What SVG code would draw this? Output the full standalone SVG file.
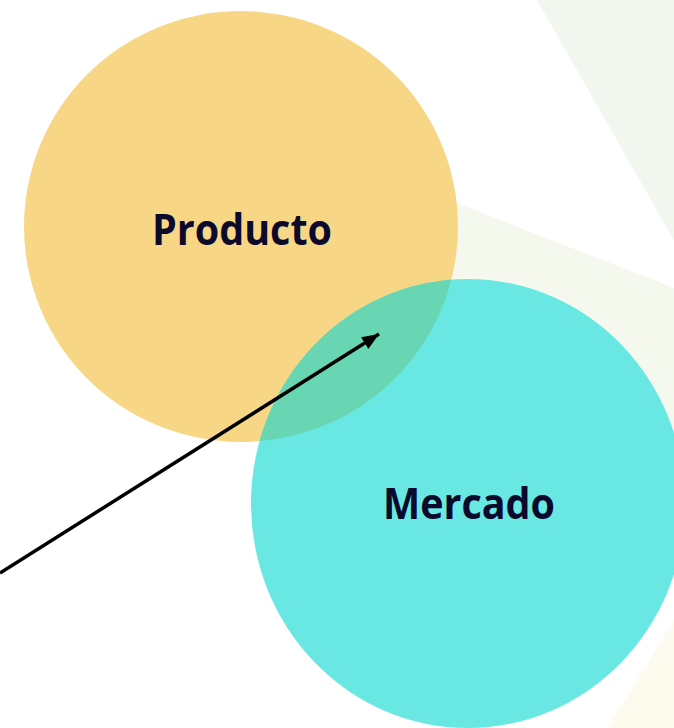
<svg xmlns="http://www.w3.org/2000/svg" width="674" height="728" viewBox="0 0 674 728">
  <style>
    .label { font-family: "Open Sans", "Noto Sans", "Liberation Sans", sans-serif; font-weight: 700; font-size: 43px; fill: #0C0A2C; text-anchor: middle; }
    .conn { stroke: #000; stroke-width: 3.5; fill: none; }
  </style>
  <defs>
    <marker id="arrow" markerUnits="userSpaceOnUse" markerWidth="18" markerHeight="14" refX="17" refY="7" orient="auto">
      <path d="M0,0 L17,7 L0,14 Z" fill="#000"/>
    </marker>
    <clipPath id="clipProd">
      <ellipse cx="241" cy="226.5" rx="217" ry="215.5"/>
    </clipPath>
  </defs>
  <rect width="674" height="728" fill="#FFFFFF"/>
  <g id="background">
    <polygon points="537,0 674,0 674,240" fill="#F1F6EE"/>
    <rect x="0" y="0" width="520" height="130" rx="65" ry="65" fill="#F5F8EC" transform="translate(328,153) rotate(21.3)"/>
    <polygon points="674,620 674,728 608,728" fill="#FDFAEE"/>
  </g>
  <g id="producto">
    <ellipse cx="241" cy="226.5" rx="217" ry="215.5" fill="#F7D785"/>
    <text class="label" x="242" y="245" textLength="180" lengthAdjust="spacingAndGlyphs">Producto</text>
  </g>
  <g id="mercado">
    <ellipse cx="468" cy="503.5" rx="217" ry="224.5" fill="#69E8E3"/>
    <ellipse cx="468" cy="503.5" rx="217" ry="224.5" fill="#68D6B2" clip-path="url(#clipProd)"/>
    <text class="label" x="469" y="519" textLength="172" lengthAdjust="spacingAndGlyphs">Mercado</text>
  </g>
  <g id="connectors">
    <line class="conn" x1="0" y1="573" x2="379" y2="334" marker-end="url(#arrow)"/>
  </g>
</svg>
